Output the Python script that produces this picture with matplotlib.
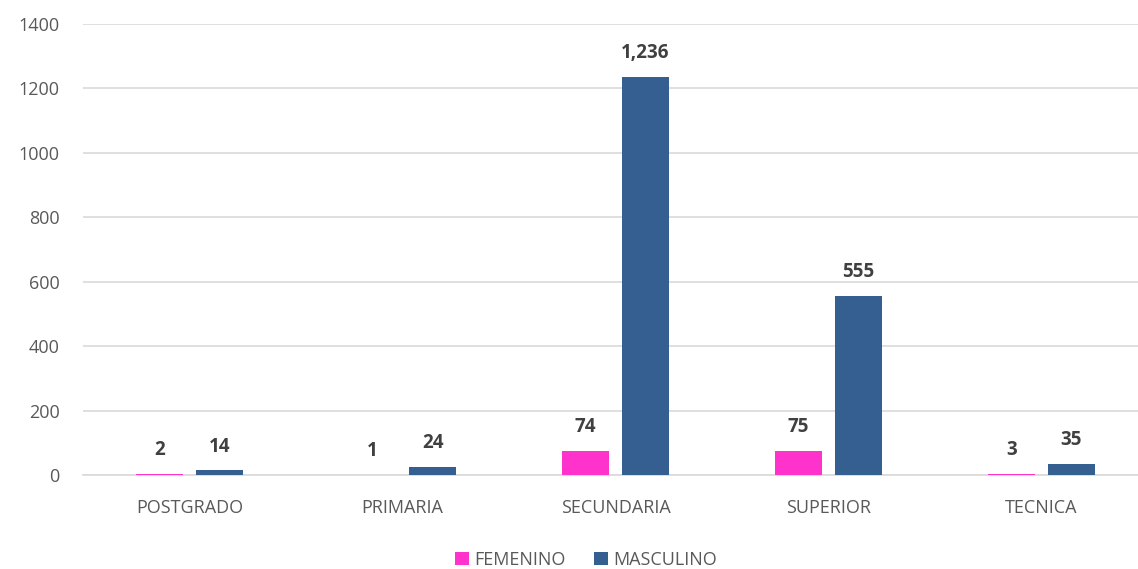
import matplotlib.pyplot as plt
import numpy as np

plt.rcParams['font.family'] = ['Open Sans', 'DejaVu Sans']

categories = ['POSTGRADO', 'PRIMARIA', 'SECUNDARIA', 'SUPERIOR', 'TECNICA']
femenino = [2, 1, 74, 75, 3]
masculino = [14, 24, 1236, 555, 35]
yticks = [0, 200, 400, 600, 800, 1000, 1200, 1400]

pink = '#FF33CC'
blue = '#355F91'
grey = '#595959'

fig = plt.figure(figsize=(11.38, 5.69), dpi=100)
# plot area spans slightly beyond the right edge like the original
ax = fig.add_axes([83 / 1138, 1 - 475 / 569, 1065 / 1138, (475 - 24) / 569])

x = np.arange(len(categories))
w = 0.225
off = 0.141
b1 = ax.bar(x - off, femenino, w, color=pink, label='FEMENINO', zorder=3)
b2 = ax.bar(x + off, masculino, w, color=blue, label='MASCULINO', zorder=3)

for bars in (b1, b2):
    for r in bars:
        h = r.get_height()
        ax.annotate(f'{int(h):,}', (r.get_x() + r.get_width() / 2, h),
                    xytext=(0, 10), textcoords='offset points', ha='center', va='bottom',
                    fontsize=13.5, fontweight='bold', color='#404040')

ax.set_xlim(-0.5, 4.5)
ax.set_ylim(0, 1400)
ax.set_yticks(yticks)
ax.set_xticks(x)
ax.set_xticklabels(categories)
ax.tick_params(axis='both', length=0, labelsize=13, labelcolor=grey)
ax.tick_params(axis='x', pad=17)
ax.tick_params(axis='y', pad=17)
ax.grid(axis='y', color='#D9D9D9', linewidth=1.2, zorder=0)
for s in ['top', 'right', 'left']:
    ax.spines[s].set_visible(False)
ax.spines['bottom'].set_color('#D9D9D9')
ax.spines['bottom'].set_linewidth(1.2)

fig.legend(loc='lower center', bbox_to_anchor=(0.515, -0.028), ncol=2, frameon=False,
           fontsize=13, labelcolor=grey, handlelength=0.75, handleheight=0.75,
           handletextpad=0.3, columnspacing=1.6)

fig.savefig('out.png', dpi=100)
